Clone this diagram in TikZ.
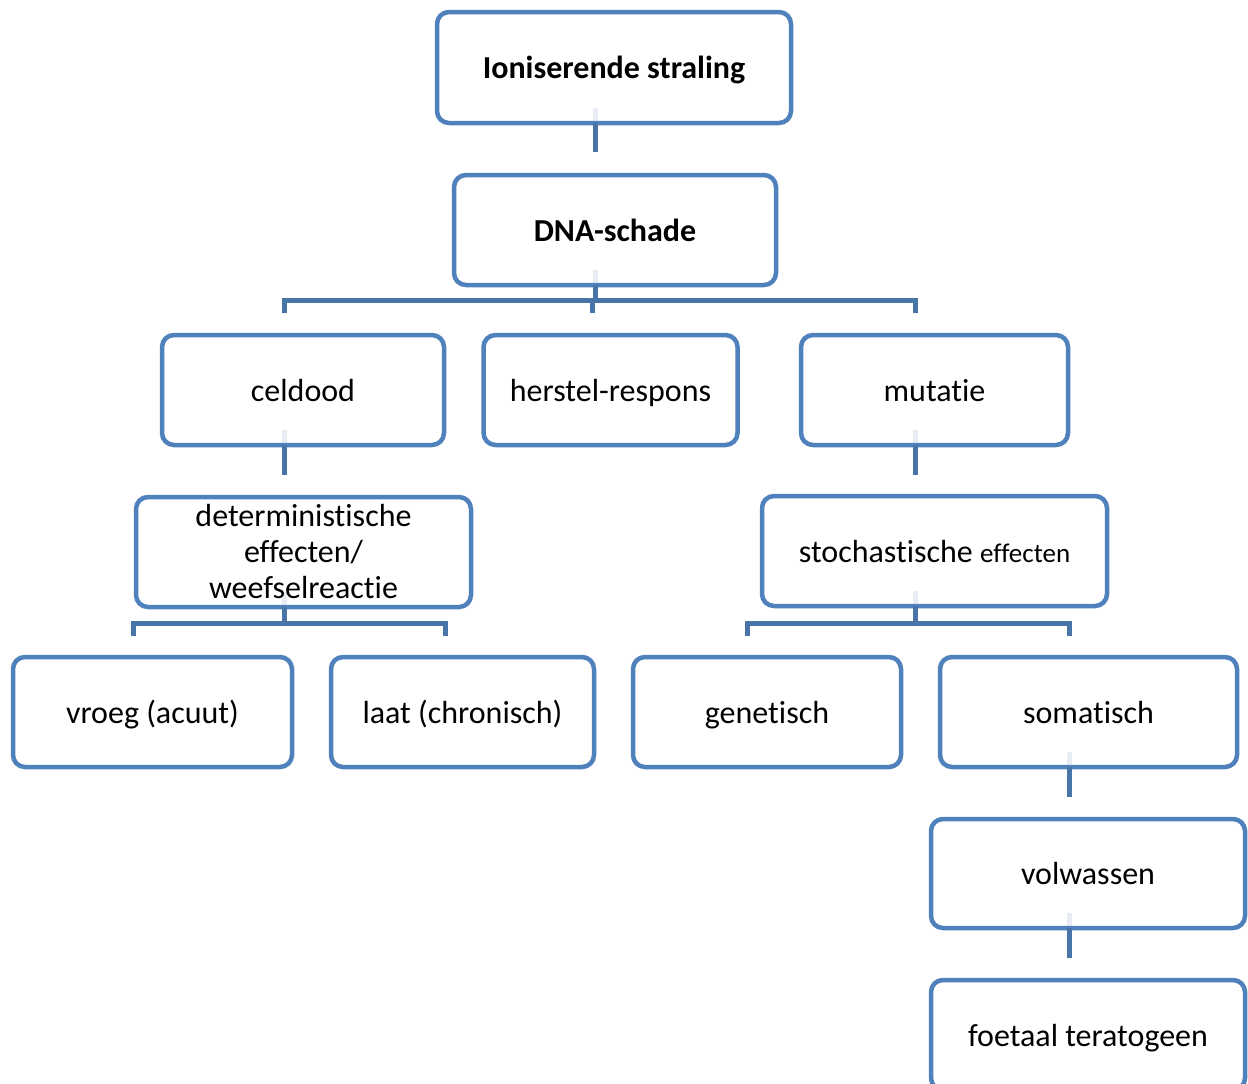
\documentclass[tikz,border=0pt]{standalone}
\usepackage{fontspec}
\setmainfont{Carlito}[Ligatures=NoCommon]
\definecolor{boxblue}{RGB}{79,129,189}
\definecolor{connblue}{RGB}{72,116,168}
\definecolor{fadeblue}{RGB}{232,237,245}
\pgfdeclarelayer{background}
\pgfsetlayers{background,main}
\begin{document}
\begin{tikzpicture}[x=1pt,y=-1pt,
 basebox/.style={draw=boxblue, line width=4.5pt, rounded corners=12pt, inner sep=0pt, outer sep=0pt, align=center, font=\fontsize{32}{36}\selectfont, minimum height=110pt},
 box/.style={basebox, text height=29pt, text depth=7pt},
 boldbox/.style={box, font=\bfseries\fontsize{32}{36}\selectfont},
 conn/.style={draw=connblue, line width=5pt},
 fade/.style={draw=fadeblue, line width=5pt}]
\begin{pgfonlayer}{background}
\fill[white] (0,0) rectangle (1248,1084);
\end{pgfonlayer}
\clip (0,0) rectangle (1248,1084);

% boxes
\node[boldbox, minimum width=354pt, minimum height=111pt] (ion) at (614,67.5) {Ioniserende straling};
\node[boldbox, minimum width=322pt] (dna) at (615,230) {DNA-schade};
\node[box, minimum width=282pt] (cel) at (303,390) {celdood};
\node[box, minimum width=254pt] (her) at (610.5,390) {herstel-respons};
\node[box, minimum width=267pt] (mut) at (934.5,390) {mutatie};
\node[basebox, minimum width=335pt] (det) at (303.5,552) {deterministische\\effecten/\\weefselreactie};
\node[box, minimum width=345pt] (sto) at (934.5,551) {stochastische {\fontsize{27}{32}\selectfont effecten}};
\node[box, minimum width=279pt] (vro) at (152.5,712) {vroeg (acuut)};
\node[box, minimum width=263pt] (laa) at (462.5,712) {laat (chronisch)};
\node[box, minimum width=268pt] (gen) at (767,712) {genetisch};
\node[box, minimum width=297pt] (som) at (1088.5,712) {somatisch};
\node[box, minimum width=314pt, minimum height=109pt] (vol) at (1088,873.5) {volwassen};
\node[box, minimum width=314pt] (foe) at (1088,1035) {foetaal teratogeen};

% ion -> dna
\coordinate (c1) at (595,152);
\begin{pgfonlayer}{background}
\draw[fade] (ion.south -| c1) ++(0,-15) -- ++(0,13);
\end{pgfonlayer}
\draw[conn] (ion.south -| c1) -- (c1);

% dna -> level 3
\coordinate (d0) at (595,300);
\coordinate (dL) at (284,313);
\coordinate (dM) at (592,313);
\coordinate (dR) at (915,313);
\begin{pgfonlayer}{background}
\draw[fade] (dna.south -| d0) ++(0,-15) -- ++(0,13);
\end{pgfonlayer}
\draw[conn] (dna.south -| d0) -- (d0);
\draw[conn] (dL) -- (dL |- d0) -- (dR |- d0) -- (dR);
\draw[conn] (dM |- d0) -- (dM);

% celdood -> det
\coordinate (c2) at (284,475);
\begin{pgfonlayer}{background}
\draw[fade] (cel.south -| c2) ++(0,-15) -- ++(0,13);
\end{pgfonlayer}
\draw[conn] (cel.south -| c2) -- (c2);

% det -> level 5
\coordinate (e0) at (284,623);
\coordinate (eL) at (133,636);
\coordinate (eR) at (445,636);
\begin{pgfonlayer}{background}
\draw[fade] (det.south -| e0) ++(0,-15) -- ++(0,13);
\end{pgfonlayer}
\draw[conn] (det.south -| e0) -- (e0);
\draw[conn] (eL) -- (eL |- e0) -- (eR |- e0) -- (eR);

% mutatie -> sto
\coordinate (c3) at (915,475);
\begin{pgfonlayer}{background}
\draw[fade] (mut.south -| c3) ++(0,-15) -- ++(0,13);
\end{pgfonlayer}
\draw[conn] (mut.south -| c3) -- (c3);

% sto -> level 5
\coordinate (s0) at (915,623);
\coordinate (sL) at (747,636);
\coordinate (sR) at (1069,636);
\begin{pgfonlayer}{background}
\draw[fade] (sto.south -| s0) ++(0,-15) -- ++(0,13);
\end{pgfonlayer}
\draw[conn] (sto.south -| s0) -- (s0);
\draw[conn] (sL) -- (sL |- s0) -- (sR |- s0) -- (sR);

% somatisch -> volwassen
\coordinate (c4) at (1069,797);
\begin{pgfonlayer}{background}
\draw[fade] (som.south -| c4) ++(0,-15) -- ++(0,13);
\end{pgfonlayer}
\draw[conn] (som.south -| c4) -- (c4);

% volwassen -> foetaal
\coordinate (c5) at (1069,958);
\begin{pgfonlayer}{background}
\draw[fade] (vol.south -| c5) ++(0,-15) -- ++(0,13);
\end{pgfonlayer}
\draw[conn] (vol.south -| c5) -- (c5);
\end{tikzpicture}
\end{document}
